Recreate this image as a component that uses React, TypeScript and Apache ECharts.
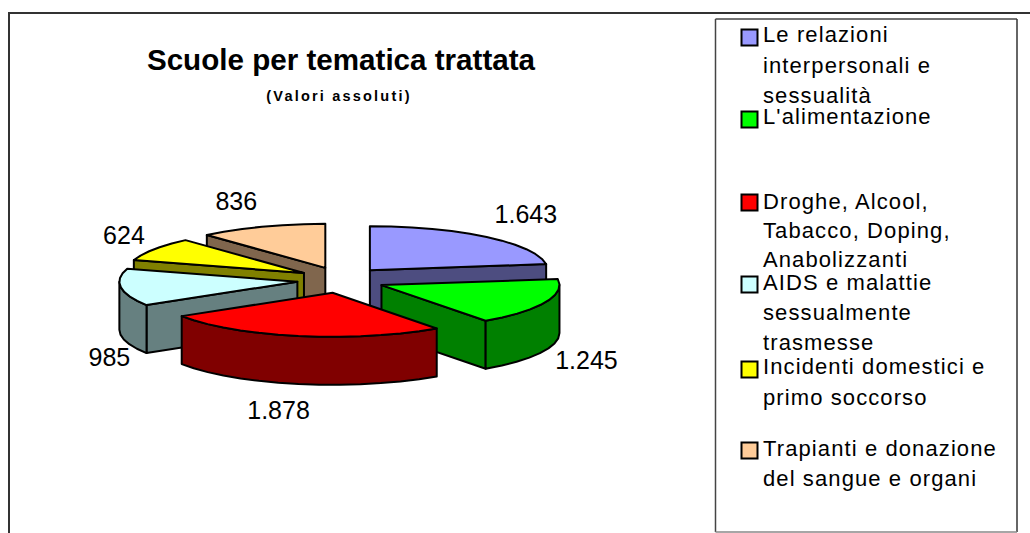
import React, { useEffect, useRef } from "react";
import * as echarts from "echarts";

const categories = [
  "Le relazioni interpersonali e sessualità",
  "L'alimentazione",
  "Droghe, Alcool, Tabacco, Doping, Anabolizzanti",
  "AIDS e malattie sessualmente trasmesse",
  "Incidenti domestici e primo soccorso",
  "Trapianti e donazione del sangue e organi",
];
const values = [1643, 1245, 1878, 985, 624, 836];
const topColors = ["#9999FF", "#00FF00", "#FF0000", "#CCFFFF", "#FFFF00", "#FFCC99"];
const wallColors = ["#4D4D80", "#008000", "#800000", "#668080", "#808000", "#80664D"];
const drawOrder = [5, 0, 4, 3, 1, 2];
const labelOffsets = [[156, -56], [205, 75], [-54, 117], [-188, 75], [-180, -38], [-89, -67]];

const legendLines = [
  ["Le relazioni", "interpersonali e", "sessualità"],
  ["L'alimentazione"],
  ["Droghe, Alcool,", "Tabacco, Doping,", "Anabolizzanti"],
  ["AIDS e malattie", "sessualmente", "trasmesse"],
  ["Incidenti domestici e", "primo soccorso"],
  ["Trapianti e donazione", "del sangue e organi"],
];
const legendLineY = [
  [34.5, 65.5, 95.5],
  [116.5],
  [201.5, 230.5, 259.5],
  [282.5, 312.5, 342.5],
  [366.5, 397.5],
  [448.5, 478.5],
];
const legendMarkerY = [29.5, 111.5, 194.5, 276.5, 361.5, 442.5];

const FONT = "'Liberation Sans', Arial, sans-serif";
const CX = 341, CY = 280, RX = 178, RY = 44, EX = 44, EY = 13, DEPTH = 48;
const total = values.reduce((a, b) => a + b, 0);
const fmt = (v: number) => String(v).replace(/\B(?=(\d{3})+$)/, ".");

function arc(cx: number, cy: number, a0: number, a1: number, dy = 0) {
  const pts: number[][] = [];
  const n = Math.max(2, Math.ceil(Math.abs(a1 - a0) / 7));
  for (let i = 0; i <= n; i++) {
    const a = ((a0 + ((a1 - a0) * i) / n) * Math.PI) / 180;
    pts.push([cx + RX * Math.sin(a), cy - RY * Math.cos(a) + dy]);
  }
  return pts;
}

function renderItem(_params: any, api: any) {
  const i = api.value(1) as number;
  let before = 0;
  for (let k = 0; k < i; k++) before += values[k];
  const a0 = (before / total) * 360;
  const a1 = ((before + (api.value(0) as number)) / total) * 360;
  const mid = (((a0 + a1) / 2) * Math.PI) / 180;
  const ax = CX + EX * Math.sin(mid);
  const ay = CY - EY * Math.cos(mid);
  const style = { stroke: "#000", lineWidth: 2, lineJoin: "round" };
  const wall = { ...style, fill: wallColors[i] };
  const top = arc(ax, ay, a0, a1);
  const children: any[] = [];
  const edge = (p: number[]) => ({
    type: "polygon",
    shape: { points: [[ax, ay], p, [p[0], p[1] + DEPTH], [ax, ay + DEPTH]] },
    style: wall,
  });
  // Only the cut faces that look towards the viewer are drawn.
  if (Math.sin((a0 * Math.PI) / 180) < -1e-6) children.push(edge(top[0]));
  if (Math.sin((a1 * Math.PI) / 180) > 1e-6) children.push(edge(top[top.length - 1]));
  const w0 = Math.max(a0, 90), w1 = Math.min(a1, 270);
  if (w1 > w0) {
    const upper = arc(ax, ay, w0, w1);
    const lower = arc(ax, ay, w0, w1, DEPTH).reverse();
    children.push({ type: "polygon", shape: { points: [...upper, ...lower] }, style: wall });
  }
  children.push({
    type: "polygon",
    shape: { points: [[ax, ay], ...top] },
    style: { ...style, fill: topColors[i] },
  });
  children.push({
    type: "text",
    z2: 100,
    style: {
      x: ax + labelOffsets[i][0],
      y: ay + labelOffsets[i][1],
      text: fmt(api.value(0) as number),
      font: `25px ${FONT}`,
      fill: "#000",
      align: "center",
      verticalAlign: "middle",
    },
  });
  return { type: "group", children };
}

export default function App() {
  const ref = useRef<HTMLDivElement>(null);
  useEffect(() => {
    const chart = echarts.init(ref.current!, null, { renderer: "svg" });
    const line = (x1: number, y1: number, x2: number, y2: number, stroke = "#333", lineWidth = 1.5) => ({
      type: "line",
      shape: { x1, y1, x2, y2 },
      style: { stroke, lineWidth },
    });
    const legend: any[] = [];
    categories.forEach((_c, i) => {
      legend.push({
        type: "rect",
        shape: { x: 741.5, y: legendMarkerY[i], width: 16, height: 16 },
        style: { fill: topColors[i], stroke: "#000", lineWidth: 2 },
      });
      legendLines[i].forEach((t, j) => {
        legend.push({
          type: "text",
          style: {
            x: 763,
            y: legendLineY[i][j],
            text: t,
            font: `22px ${FONT}`,
            fill: "#000",
            verticalAlign: "middle",
          },
        });
      });
    });
    chart.setOption({
      animation: false,
      backgroundColor: "#fff",
      title: [
        {
          text: "Scuole per tematica trattata",
          left: 336,
          top: 39,
          textAlign: "center",
          textStyle: { fontFamily: FONT, fontSize: 29.6, fontWeight: "bold", color: "#000" },
        },
        {
          text: "(Valori assoluti)",
          left: 334,
          top: 83,
          textAlign: "center",
          textStyle: { fontFamily: FONT, fontSize: 14.5, fontWeight: "bold", color: "#000" },
        },
      ],
      graphic: [
        line(8, 13, 1030, 13, "#333", 2),
        line(9, 13, 9, 533, "#333", 2),
        line(715.5, 19, 1017, 19, "#444"),
        line(715.5, 19, 715.5, 532, "#444"),
        line(1017, 19, 1017, 532, "#333"),
        line(715.5, 532, 1017, 532, "#888"),
        ...legend,
      ],
      series: [
        {
          type: "custom",
          coordinateSystem: "none",
          renderItem,
          data: drawOrder.map((i) => [values[i], i]),
        },
      ],
    });
    // The original's text is set with open tracking; ECharts has no option for it.
    const legendTexts = new Set(legendLines.flat());
    ref.current!.querySelectorAll("text").forEach((el) => {
      const t = el.textContent || "";
      if (legendTexts.has(t)) el.setAttribute("letter-spacing", "1.1");
      else if (t === "(Valori assoluti)") el.setAttribute("letter-spacing", "2.2");
    });
    return () => chart.dispose();
  }, []);
  return <div ref={ref} style={{ position: "fixed", left: 0, top: 0, width: 1030, height: 533 }} />;
}
